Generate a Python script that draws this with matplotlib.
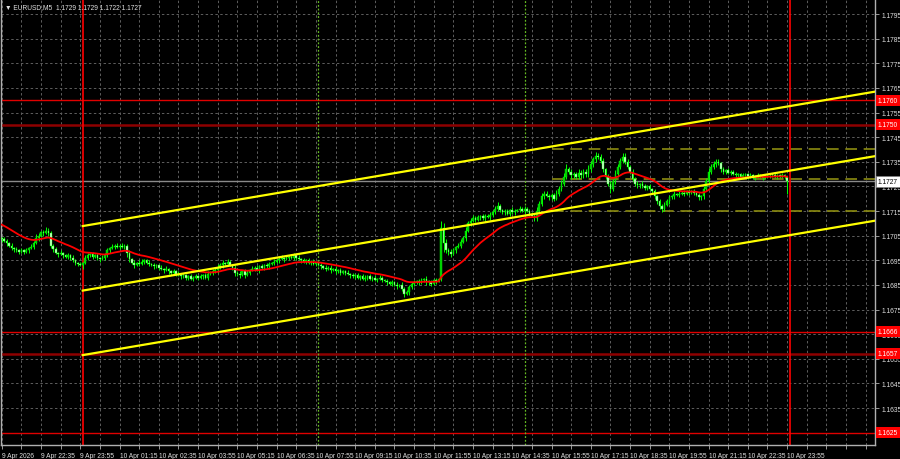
import numpy as np
import matplotlib
matplotlib.use('Agg')
import matplotlib.pyplot as plt
import matplotlib.transforms as mtransforms

# EURUSD M5, prices in pips above 1.1600, bar 0 = 9 Apr 21:15
base = 1.1600
first_open = 104.0
closes = [
    103.5, 103, 102, 101, 100, 99.5, 99, 98.5,
    99, 98.5, 99, 100, 100.5,
    102, 104, 105, 106.5, 106, 107, 106,
    101, 99.5,
    98, 97.5, 98, 97, 96.5, 97, 96,
    95, 94, 93.5, 93, 94,
    96, 97, 97.5, 96.5, 97, 96,
    95.5, 96, 97,
    99, 100, 100.5, 101, 100.5, 101, 100.5, 101,
    98, 95.5,
    94, 93, 94, 93.5, 94.5, 95, 94, 93.5,
    93, 92.5, 93, 92, 91.5, 91,
    91.5, 90.5, 90, 90.5, 89.5, 89,
    88.5, 89, 88, 88.5, 87.5, 88, 88.5, 88,
    88.5, 89, 88, 89.5, 90, 90.5, 91,
    92, 93, 94, 93.5, 94.5, 93, 92,
    90, 89.5, 89, 90.5, 89, 90, 91,
    91.5, 92, 91, 92.5, 92, 93, 92.5, 93.5,
    94, 94.5, 95, 95.5, 96, 95.5, 96, 96.5, 96, 97, 96,
    95.5, 95, 94.5, 95, 94, 94.5, 93.5, 94, 93, 92.5,
    92, 91.5, 92, 91, 91.5, 90.5, 91, 90, 90.5, 90,
    89.5, 89, 88.5, 89, 88, 88.5, 87.5, 88,
    88.5, 87.5, 88, 87, 87.5, 88, 87, 86.5,
    86, 85.5, 86, 85, 84.5, 85, 83.5, 81.5, 82,
    84, 85.5, 86, 86.5, 86, 87,
    87.5, 86.5, 86, 85.5, 87, 86.5, 87.5,
    108, 102,
    99, 98.5, 97.5,
    99, 100.5, 101, 102.5, 104, 107,
    110, 111, 112, 111.5, 112.5, 113, 112, 113, 112.5, 113.5,
    114.5, 116, 117, 115.5,
    114.5, 115, 114, 115.5, 114.5, 115,
    115.5, 116, 115, 116, 115, 114, 113,
    112,
    115, 118, 121, 122, 121,
    120.5, 121.5, 120, 122, 124,
    126, 129, 132, 131, 129.5, 130,
    129, 130.5, 129.5, 131, 130, 132,
    134, 136, 137.5, 137, 135.5,
    132, 129, 126, 124,
    127, 130, 133, 135.5, 137,
    135, 133, 131, 128, 126,
    125.5, 126, 125, 124.5, 125, 124, 123,
    121, 119, 117, 116, 117.5,
    119, 120.5, 121, 122, 121.5, 122, 122.5, 122, 123, 122.5,
    123, 122.5, 121.5, 120.5, 121,
    124, 127, 131, 133, 134, 135, 134.5,
    132, 131, 131.5, 130.5, 131,
    130, 129.5, 130, 129, 129.5, 130, 129, 129.5, 128.5, 129, 129.5,
    129, 128.5, 129, 129.5, 130, 129.5, 129, 129.5, 129, 129.5, 129,
    127,
]
wick_up = [
    0.5, 1, 0.5, 0.5, 1, 0.5, 1, 0.5, 1, 0.5, 1, 0.5, 1, 1, 1.5, 1, 0.5, 1, 1.5, 1,
    1, 0.5, 1, 0.5, 1, 0.5, 0.5, 1, 0.5, 1, 0.5, 0.5, 1, 0.5, 1, 1, 0.5, 1, 0.5, 1,
    0.5, 1, 1, 1, 0.5, 1, 0.5, 1, 0.5, 1, 0.5, 0.5, 1, 0.5, 1, 0.5, 1, 1, 0.5, 0.5,
    1, 0.5, 1, 0.5, 0.5, 1, 0.5, 1, 0.5, 0.5, 1, 0.5, 1, 0.5, 1, 0.5, 0.5, 1, 0.5, 1,
    0.5, 1, 0.5, 1, 1, 0.5, 1, 1, 1.5, 1, 1, 0.5, 1, 0.5, 0.5, 1, 0.5, 1, 0.5, 1,
    1, 0.5, 1, 0.5, 1, 0.5, 1, 0.5, 1, 1, 0.5, 1, 0.5, 1, 1, 0.5, 1, 0.5, 1, 1,
    0.5, 1, 0.5, 1, 0.5, 1, 0.5, 1, 0.5, 0.5, 1, 0.5, 1, 0.5, 1, 0.5, 1, 0.5, 1, 0.5,
    0.5, 1, 0.5, 1, 0.5, 1, 0.5, 1, 1, 0.5, 1, 0.5, 1, 0.5, 1, 0.5, 0.5, 1, 0.5, 1,
    0.5, 1, 0.5, 1, 0.5, 1, 1, 0.5, 1, 0.5, 1, 1, 0.5, 1, 0.5, 1, 0.5, 1, 0.5, 3,
    2, 1.5, 1, 1, 1, 0.5, 1, 1, 1, 1.5, 1, 1, 1.5, 1, 1, 0.5, 1, 1, 1, 1,
    1, 1, 1.5, 1, 0.5, 1, 1, 0.5, 1, 1, 0.5, 1, 0.5, 1, 0.5, 1, 0.5, 1, 1.5, 1,
    1.5, 1, 1, 1, 1, 1, 1.5, 1, 1.5, 1.5, 2, 1, 1, 1, 1, 1.5, 1, 1, 1, 1.5,
    1.5, 1, 1.5, 1, 1, 1, 0.5, 1, 1, 1, 1.5, 1, 1, 1.5, 1.5, 1, 0.5, 1, 1, 1,
    0.5, 1, 1, 0.5, 1, 0.5, 1, 0.5, 1, 1, 1, 1, 1, 0.5, 1, 0.5, 1, 0.5, 1, 0.5,
    1, 0.5, 1, 0.5, 1, 0.5, 1, 1.5, 1.5, 1, 1.5, 1, 1, 0.5, 1, 0.5, 1, 0.5, 0.5, 1,
    0.5, 0.5, 1, 0.5, 0.5, 1, 0.5, 0.5, 1, 0.5, 0.5, 1, 0.5, 0.5, 0.5, 1, 0.5, 0.5, 1, 0.5,
    0,
]
wick_dn = [
    1, 0.5, 1, 0.5, 1, 1, 0.5, 1, 0.5, 1, 0.5, 1, 0.5, 1, 0.5, 1, 0.5, 1, 0.5, 1,
    1, 1, 0.5, 1, 0.5, 1, 0.5, 1, 1, 0.5, 1, 1, 0.5, 1.5, 0.5, 1, 0.5, 1, 0.5, 1,
    1, 0.5, 1, 0.5, 1, 0.5, 1, 0.5, 1, 0.5, 1, 1.5, 1, 0.5, 1, 0.5, 1, 0.5, 1, 0.5,
    1, 0.5, 1, 0.5, 1, 0.5, 1, 0.5, 1, 1, 0.5, 1, 0.5, 1, 0.5, 1, 1, 0.5, 1, 0.5,
    1, 0.5, 1, 0.5, 1, 0.5, 1, 0.5, 1, 0.5, 1, 0.5, 1, 0.5, 1, 1.5, 1, 1, 0.5, 1,
    0.5, 1, 0.5, 1, 0.5, 1, 0.5, 1, 0.5, 1, 0.5, 1, 0.5, 1, 0.5, 1, 0.5, 1, 0.5, 1,
    1, 0.5, 1, 0.5, 1, 0.5, 1, 0.5, 1, 0.5, 1, 0.5, 1, 0.5, 1, 0.5, 1, 0.5, 1, 0.5,
    1, 0.5, 1, 0.5, 1, 0.5, 1, 0.5, 1, 1, 0.5, 1, 0.5, 1, 0.5, 1, 0.5, 1, 0.5, 1,
    0.5, 1, 0.5, 1, 1.5, 0.5, 1, 0.5, 1, 0.5, 1, 0.5, 1, 1.5, 1, 1, 0.5, 1, 0.5, 1,
    3.5, 1, 1.5, 1, 0.5, 1, 0.5, 1, 0.5, 1, 0.5, 1, 0.5, 1, 0.5, 1, 0.5, 1, 0.5, 1,
    1, 0.5, 1, 1, 0.5, 1, 0.5, 1, 0.5, 1, 0.5, 1, 0.5, 1, 0.5, 1, 0.5, 1, 1, 0.5,
    1, 1, 0.5, 1, 1, 1, 0.5, 1, 1, 1, 1, 1, 1.5, 1, 1, 1, 1, 1, 1, 1,
    1, 1, 1, 1, 1, 1, 1, 1, 1.5, 1, 1, 1, 1, 1, 1, 1, 1, 1, 1, 1,
    1, 0.5, 1, 1, 0.5, 1, 1, 1, 1, 1.5, 1, 0.5, 1, 0.5, 1, 0.5, 1, 0.5, 1, 0.5,
    1, 0.5, 1, 0.5, 1, 1, 1, 1, 1, 1, 1, 1, 1, 1, 1, 1, 0.5, 1, 0.5, 1,
    0.5, 1, 0.5, 0.5, 1, 0.5, 0.5, 1, 0.5, 0.5, 1, 0.5, 0.5, 1, 0.5, 0.5, 1, 0.5, 0.5, 1,
    5,
]

# moving average (red)
ma_period = 24
ma_seed = 110.0

# linear channel: middle line anchors (bar, price) and half width
chan_bars = [33, 321]
chan_mid = [1.16827, 1.17314]
chan_half = 0.00262

# levels
red_levels = [1.1760, 1.1750, 1.1666, 1.1657, 1.1625]
red_strong = [False, True, False, True, False]
dash_levels = [1.1740, 1.1728, 1.1715]
dash_start = 224
cur_price = 1.1727
red_vlines = [33, 321]
green_vlines = [129, 213]

# axis labels
price_ticks = [1.1635 + 0.001 * k for k in range(17)]
time_labels = ['9 Apr 2026', '9 Apr 22:35', '9 Apr 23:55', '10 Apr 01:15', '10 Apr 02:35',
               '10 Apr 03:55', '10 Apr 05:15', '10 Apr 06:35', '10 Apr 07:55', '10 Apr 09:15',
               '10 Apr 10:35', '10 Apr 11:55', '10 Apr 13:15', '10 Apr 14:35', '10 Apr 15:55',
               '10 Apr 17:15', '10 Apr 18:35', '10 Apr 19:55', '10 Apr 21:15', '10 Apr 22:35',
               '10 Apr 23:55']

# ---- build arrays
c = base + np.array(closes) / 10000.0
o = np.concatenate([[base + first_open / 10000.0], c[:-1]])
hi = np.maximum(o, c) + np.array(wick_up) / 10000.0
lo = np.minimum(o, c) - np.array(wick_dn) / 10000.0
idx = np.arange(len(c))

alpha = 2.0 / (ma_period + 1)
ma = np.empty(len(c))
m = base + ma_seed / 10000.0
for i, v in enumerate(c):
    m += alpha * (v - m)
    ma[i] = m

fam = ['Liberation Sans', 'DejaVu Sans']
fs = 4.8
fg = '#e0e0e0'

fig = plt.figure(figsize=(9, 4.6), dpi=100, facecolor='black')
ax = fig.add_axes([1 / 900, 14 / 460, 874 / 900, 446 / 460])
ax.set_facecolor('black')
xmin, xmax = -0.3, 355.8
ax.set_xlim(xmin, xmax)
ax.set_ylim(1.16200, 1.18011)

# grid
ax.set_yticks(price_ticks)
ax.set_xticks(np.arange(0, 321, 16))
ax.set_xticks(np.arange(0, 356, 8), minor=True)
ax.grid(which='both', color='#5e5e5e', linestyle=(0, (2.5, 2.5)), linewidth=0.7)
ax.set_axisbelow(True)

# red horizontal levels
for lv, strong in zip(red_levels, red_strong):
    ax.axhline(lv, color='#8e0000' if strong else '#e00000', lw=1.8 if strong else 1.0, zorder=1.5)

# current price line
ax.axhline(cur_price, color='#8a8a8a', lw=1.0, zorder=1.4)

# dashed levels
for lv in dash_levels:
    ax.plot([dash_start, xmax], [lv, lv], color='#8c8c10', lw=1.2, ls=(0, (7, 4)), zorder=1.6)

# vertical lines
for b in red_vlines:
    ax.axvline(b, color='#ff0000', lw=1.2, zorder=1.7)
for b in green_vlines:
    ax.axvline(b, color='#66bb22', lw=0.9, ls=(0, (1.5, 1.5)), zorder=1.7)

# candles
ax.vlines(idx, lo, hi, color='#00ff00', lw=0.7, zorder=3)
up = c >= o
body_lo = np.minimum(o, c)
body_h = np.maximum(np.abs(c - o), 0.00002)
ax.bar(idx[up], body_h[up], bottom=body_lo[up], width=0.65, color='#00c800',
       edgecolor='#00ff00', lw=0.3, zorder=3.1)
ax.bar(idx[~up], body_h[~up], bottom=body_lo[~up], width=0.65, color='#d8ffd8',
       edgecolor='#00ff00', lw=0.3, zorder=3.1)

# moving average
ax.plot(idx, ma, color='#ff0000', lw=1.3, zorder=4)

# channel
slope = (chan_mid[1] - chan_mid[0]) / (chan_bars[1] - chan_bars[0])
xs = np.array([chan_bars[0], xmax])
mid = chan_mid[0] + slope * (xs - chan_bars[0])
for off in (-chan_half, 0, chan_half):
    ax.plot(xs, mid + off, color='#ffff00', lw=1.6, zorder=5)

# spines
for s in ('left', 'bottom', 'right'):
    ax.spines[s].set_color('#b0b0b0')
    ax.spines[s].set_linewidth(1.0)
ax.spines['top'].set_visible(False)

# price axis
ax.yaxis.tick_right()
ax.set_yticklabels(['%.4f' % p for p in price_ticks])
ax.tick_params(axis='y', which='both', colors='#b0b0b0', labelcolor=fg, length=3,
               width=0.6, pad=1.5, labelsize=fs)
for lbl in ax.get_yticklabels():
    lbl.set_family(fam)

# time axis
ax.set_xticklabels(time_labels)
ax.tick_params(axis='x', which='both', colors='#b0b0b0', labelcolor=fg, length=3,
               width=0.6, pad=2, labelsize=fs)
for lbl in ax.get_xticklabels():
    lbl.set_ha('left')
    lbl.set_family(fam)

# price boxes
trans = mtransforms.blended_transform_factory(ax.transAxes, ax.transData)
for lv in red_levels:
    ax.text(1.003, lv, '%.4f' % lv, transform=trans, ha='left', va='center', fontsize=fs,
            family=fam, color='white', clip_on=False, zorder=10,
            bbox=dict(boxstyle='square,pad=0.3', fc='#ff0000', ec='none'))
ax.text(1.003, cur_price, '%.4f' % cur_price, transform=trans, ha='left', va='center',
        fontsize=fs, family=fam, color='black', clip_on=False, zorder=10,
        bbox=dict(boxstyle='square,pad=0.3', fc='white', ec='#808080', lw=0.5))

# header
fig.text(5 / 900, 1 - 8 / 460, '\u25bc EURUSD,M5  1.1729 1.1729 1.1722 1.1727',
         color=fg, fontsize=fs, family=fam, va='center', ha='left')

fig.savefig('out.png', dpi=100, facecolor='black')
